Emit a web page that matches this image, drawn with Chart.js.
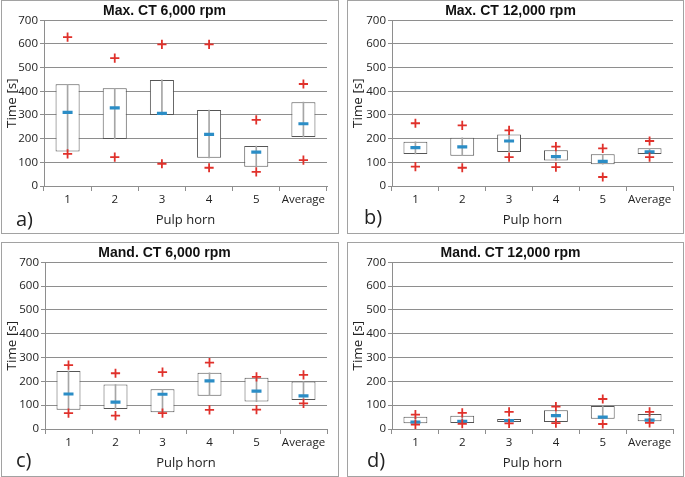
<!DOCTYPE html>
<html>
<head>
<meta charset="utf-8">
<script src="https://cdn.jsdelivr.net/npm/chart.js@4.4.1/dist/chart.umd.min.js"></script>
<style>
  body { margin: 0; background: #fff; width: 685px; height: 477px; overflow: hidden; position: relative; }
  .frame { position: absolute; border: 1px solid #a2a2a2; box-sizing: border-box; }
  canvas { position: absolute; }
  .tag { position: absolute; font-family: "Open Sans", sans-serif; font-size: 20px; color: #222; line-height: 1; }
</style>
</head>
<body>
<div class="frame" style="left:1px; top:0px; width:338px; height:234px;"></div>
<div class="frame" style="left:347px; top:0px; width:337px; height:234px;"></div>
<div class="frame" style="left:1px; top:242px; width:338px; height:235px;"></div>
<div class="frame" style="left:347px; top:242px; width:337px; height:235px;"></div>

<canvas id="chartA" width="335" height="231" style="left:2px; top:1px;"></canvas>
<canvas id="chartB" width="334" height="231" style="left:348px; top:1px;"></canvas>
<canvas id="chartC" width="335" height="232" style="left:2px; top:243px;"></canvas>
<canvas id="chartD" width="334" height="232" style="left:348px; top:243px;"></canvas>

<div class="tag" style="left:16px; top:209px;">a)</div>
<div class="tag" style="left:364px; top:207px;">b)</div>
<div class="tag" style="left:16px; top:450px;">c)</div>
<div class="tag" style="left:367px; top:450px;">d)</div>

<script>
const categories = ["1", "2", "3", "4", "5", "Average"];
const yTicks = [0, 100, 200, 300, 400, 500, 600, 700];

// a) Max. CT 6,000 rpm
const maxCt6kBoxLow = [146, 199, 300, 119, 81, 207];
const maxCt6kBoxHigh = [430, 413, 448, 321, 169, 354];
const maxCt6kMedian = [311, 330, 307, 218, 143, 263];
const maxCt6kMax = [629, 540, 598, 598, 279, 431];
const maxCt6kMin = [136, 122, 94, 77, 60, 109];

// b) Max. CT 12,000 rpm
const maxCt12kBoxLow = [135, 128, 144, 108, 92, 135];
const maxCt12kBoxHigh = [187, 204, 218, 151, 134, 159];
const maxCt12kMedian = [162, 165, 190, 124, 104, 144];
const maxCt12kMax = [265, 256, 235, 166, 159, 190];
const maxCt12kMin = [82, 77, 122, 80, 38, 122];

// c) Mand. CT 6,000 rpm
const mandCt6kBoxLow = [81, 84, 70, 140, 115, 122];
const mandCt6kBoxHigh = [244, 187, 167, 236, 215, 199];
const mandCt6kMedian = [147, 113, 146, 202, 159, 139];
const mandCt6kMax = [268, 234, 239, 279, 219, 227];
const mandCt6kMin = [67, 56, 67, 80, 81, 108];

// d) Mand. CT 12,000 rpm
const mandCt12kBoxLow = [24, 25, 29, 29, 43, 33];
const mandCt12kBoxHigh = [51, 56, 42, 79, 97, 63];
const mandCt12kMedian = [29, 32, 35, 56, 50, 37];
const mandCt12kMax = [60, 68, 72, 94, 126, 72];
const mandCt12kMin = [18, 22, 24, 25, 21, 26];

const labelFont = "'Open Sans', sans-serif";
const titleFont = "'Liberation Sans', Arial, sans-serif";
const gridGray = "#8e8e8e";

function makeChart(id, title, boxLow, boxHigh, median, max, min, yWidth, padRight) {
  const ranges = boxLow.map((low, i) => [low, boxHigh[i]]);
  const ctx = document.getElementById(id).getContext("2d");

  return new Chart(ctx, {
    type: "bar",
    data: {
      labels: categories,
      datasets: [
        {
          label: "box",
          data: ranges,
          backgroundColor: "#ffffff",
          borderColor: "#555555",
          borderWidth: 1,
          borderSkipped: false,
          barPercentage: 0.51,
          categoryPercentage: 1,
          grouped: false,
          order: 4,
        },
        {
          label: "range",
          data: ranges,
          backgroundColor: "#a6a6a6",
          borderWidth: 0,
          barThickness: 1,
          grouped: false,
          order: 3,
        },
        {
          label: "median",
          type: "line",
          data: median,
          showLine: false,
          pointStyle: "line",
          pointRadius: 5,
          pointBorderWidth: 3.2,
          pointBorderColor: "#2b8dc6",
          order: 1,
        },
        {
          label: "max",
          type: "line",
          data: max,
          showLine: false,
          pointStyle: "cross",
          pointRadius: 4.6,
          pointBorderWidth: 1.8,
          pointBorderColor: "#e0312b",
          order: 0,
        },
        {
          label: "min",
          type: "line",
          data: min,
          showLine: false,
          pointStyle: "cross",
          pointRadius: 4.6,
          pointBorderWidth: 1.8,
          pointBorderColor: "#e0312b",
          order: 0,
        },
      ],
    },
    options: {
      responsive: false,
      animation: false,
      events: [],
      layout: { padding: { left: 0, right: padRight, top: 0, bottom: 0 } },
      plugins: {
        legend: { display: false },
        tooltip: { enabled: false },
        title: {
          display: true,
          text: title,
          color: "#111",
          font: { family: titleFont, size: 14, weight: "bold" },
          padding: { top: 1.5, bottom: 1 },
        },
      },
      scales: {
        x: {
          offset: true,
          afterFit: (scale) => { scale.height = 46; },
          grid: {
            offset: true,
            drawOnChartArea: true,
            tickLength: 5,
            tickColor: gridGray,
            color: (c) => (c.index === categories.length ? "#b0b0b0" : "rgba(0,0,0,0)"),
          },
          border: { color: gridGray },
          ticks: {
            color: "#222",
            font: { family: labelFont, size: 11.5 },
            padding: 2,
            maxRotation: 0,
            autoSkip: false,
          },
          title: {
            display: true,
            text: "Pulp horn",
            color: "#222",
            font: { family: labelFont, size: 13 },
            padding: { top: 5, bottom: 4 },
          },
        },
        y: {
          min: 0,
          max: 700,
          afterFit: (scale) => { scale.width = yWidth; },
          afterBuildTicks: (scale) => { scale.ticks = yTicks.map((v) => ({ value: v })); },
          grid: { color: gridGray, tickColor: gridGray, tickLength: 4 },
          border: { color: gridGray },
          ticks: { color: "#222", font: { family: labelFont, size: 11.5 }, padding: 2 },
          title: {
            display: true,
            text: "Time [s]",
            color: "#222",
            font: { family: labelFont, size: 13.5 },
            padding: { top: 2, bottom: 0 },
          },
        },
      },
    },
  });
}

makeChart("chartA", "Max. CT 6,000 rpm", maxCt6kBoxLow, maxCt6kBoxHigh, maxCt6kMedian, maxCt6kMax, maxCt6kMin, 42, 10);
makeChart("chartB", "Max. CT 12,000 rpm", maxCt12kBoxLow, maxCt12kBoxHigh, maxCt12kMedian, maxCt12kMax, maxCt12kMin, 44, 9);
makeChart("chartC", "Mand. CT 6,000 rpm", mandCt6kBoxLow, mandCt6kBoxHigh, mandCt6kMedian, mandCt6kMax, mandCt6kMin, 43, 10);
makeChart("chartD", "Mand. CT 12,000 rpm", mandCt12kBoxLow, mandCt12kBoxHigh, mandCt12kMedian, mandCt12kMax, mandCt12kMin, 44, 9);
</script>
</body>
</html>
